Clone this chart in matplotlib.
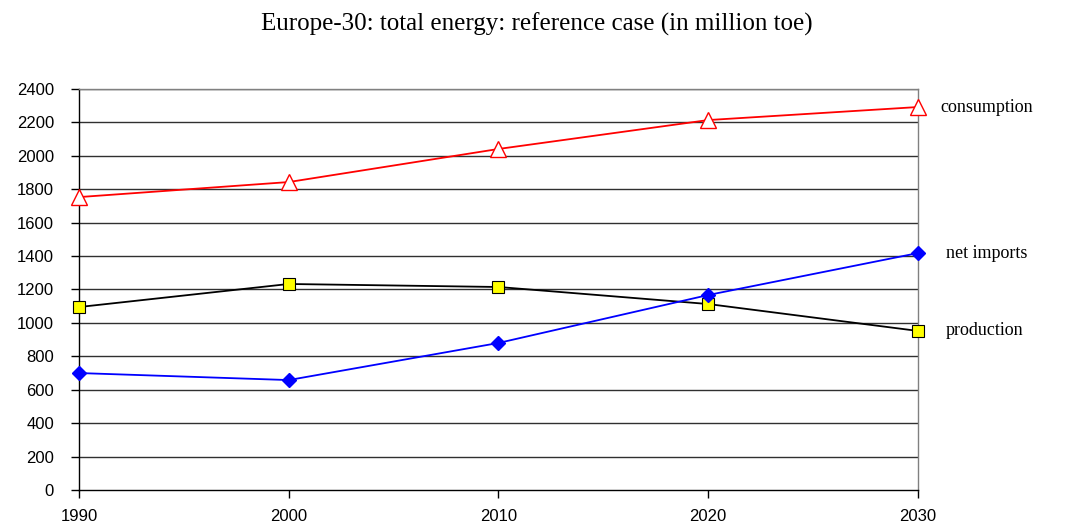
import matplotlib
matplotlib.use("Agg")
import matplotlib.pyplot as plt

# Europe-30 total energy, reference case (million toe)
years = [1990, 2000, 2010, 2020, 2030]
consumption = [1753, 1843, 2041, 2214, 2292]
net_imports = [700, 658, 880, 1167, 1418]
production = [1095, 1233, 1215, 1113, 952]

y_ticks = list(range(0, 2401, 200))
title = "Europe-30: total energy: reference case (in million toe)"

fig = plt.figure(figsize=(10.91, 5.29), dpi=100)
ax = fig.add_axes([0.0724, 0.0737, 0.7690, 0.7581])

# horizontal grid lines, slightly grey like the original
for v in y_ticks[1:]:
    ax.axhline(v, color="#303030", linewidth=1.0, zorder=1)

ax.plot(years, consumption, color="red", linewidth=1.3, marker="^",
        markersize=11, markerfacecolor="white", markeredgecolor="red",
        markeredgewidth=1.0, zorder=3, clip_on=False)
ax.plot(years, production, color="black", linewidth=1.3, marker="s",
        markersize=9, markerfacecolor="yellow", markeredgecolor="black",
        markeredgewidth=0.8, zorder=3, clip_on=False)
ax.plot(years, net_imports, color="blue", linewidth=1.3, marker="D",
        markersize=7, markerfacecolor="blue", markeredgecolor="blue",
        zorder=4, clip_on=False)

ax.set_xlim(years[0], years[-1])
ax.set_ylim(0, 2400)
ax.set_xticks(years)
ax.set_yticks(y_ticks)
ax.set_xticklabels([str(y) for y in years], fontsize=12,
                   family="Liberation Sans")
ax.set_yticklabels([str(v) for v in y_ticks], fontsize=12,
                   family="Liberation Sans")
ax.tick_params(axis="x", direction="out", length=6, width=1, pad=8)
ax.tick_params(axis="y", direction="out", length=6, width=1, pad=12)

ax.spines["top"].set_color("#808080")
ax.spines["right"].set_color("#808080")
ax.spines["left"].set_color("black")
ax.spines["bottom"].set_color("black")
for s in ax.spines.values():
    s.set_linewidth(1.0)

# series names to the right of the last point
series_labels = [("consumption", consumption[-1], 16),
                 ("net imports", net_imports[-1], 20),
                 ("production", production[-1], 20)]
for name, last, dx in series_labels:
    ax.annotate(name, xy=(years[-1], last), xytext=(dx, 0),
                textcoords="offset points", va="center", ha="left",
                fontsize=13, family="Liberation Serif", annotation_clip=False)

fig.text(0.492, 0.955, title, ha="center", va="center", fontsize=18,
         family="Liberation Serif")

fig.savefig("out.png", dpi=100)
